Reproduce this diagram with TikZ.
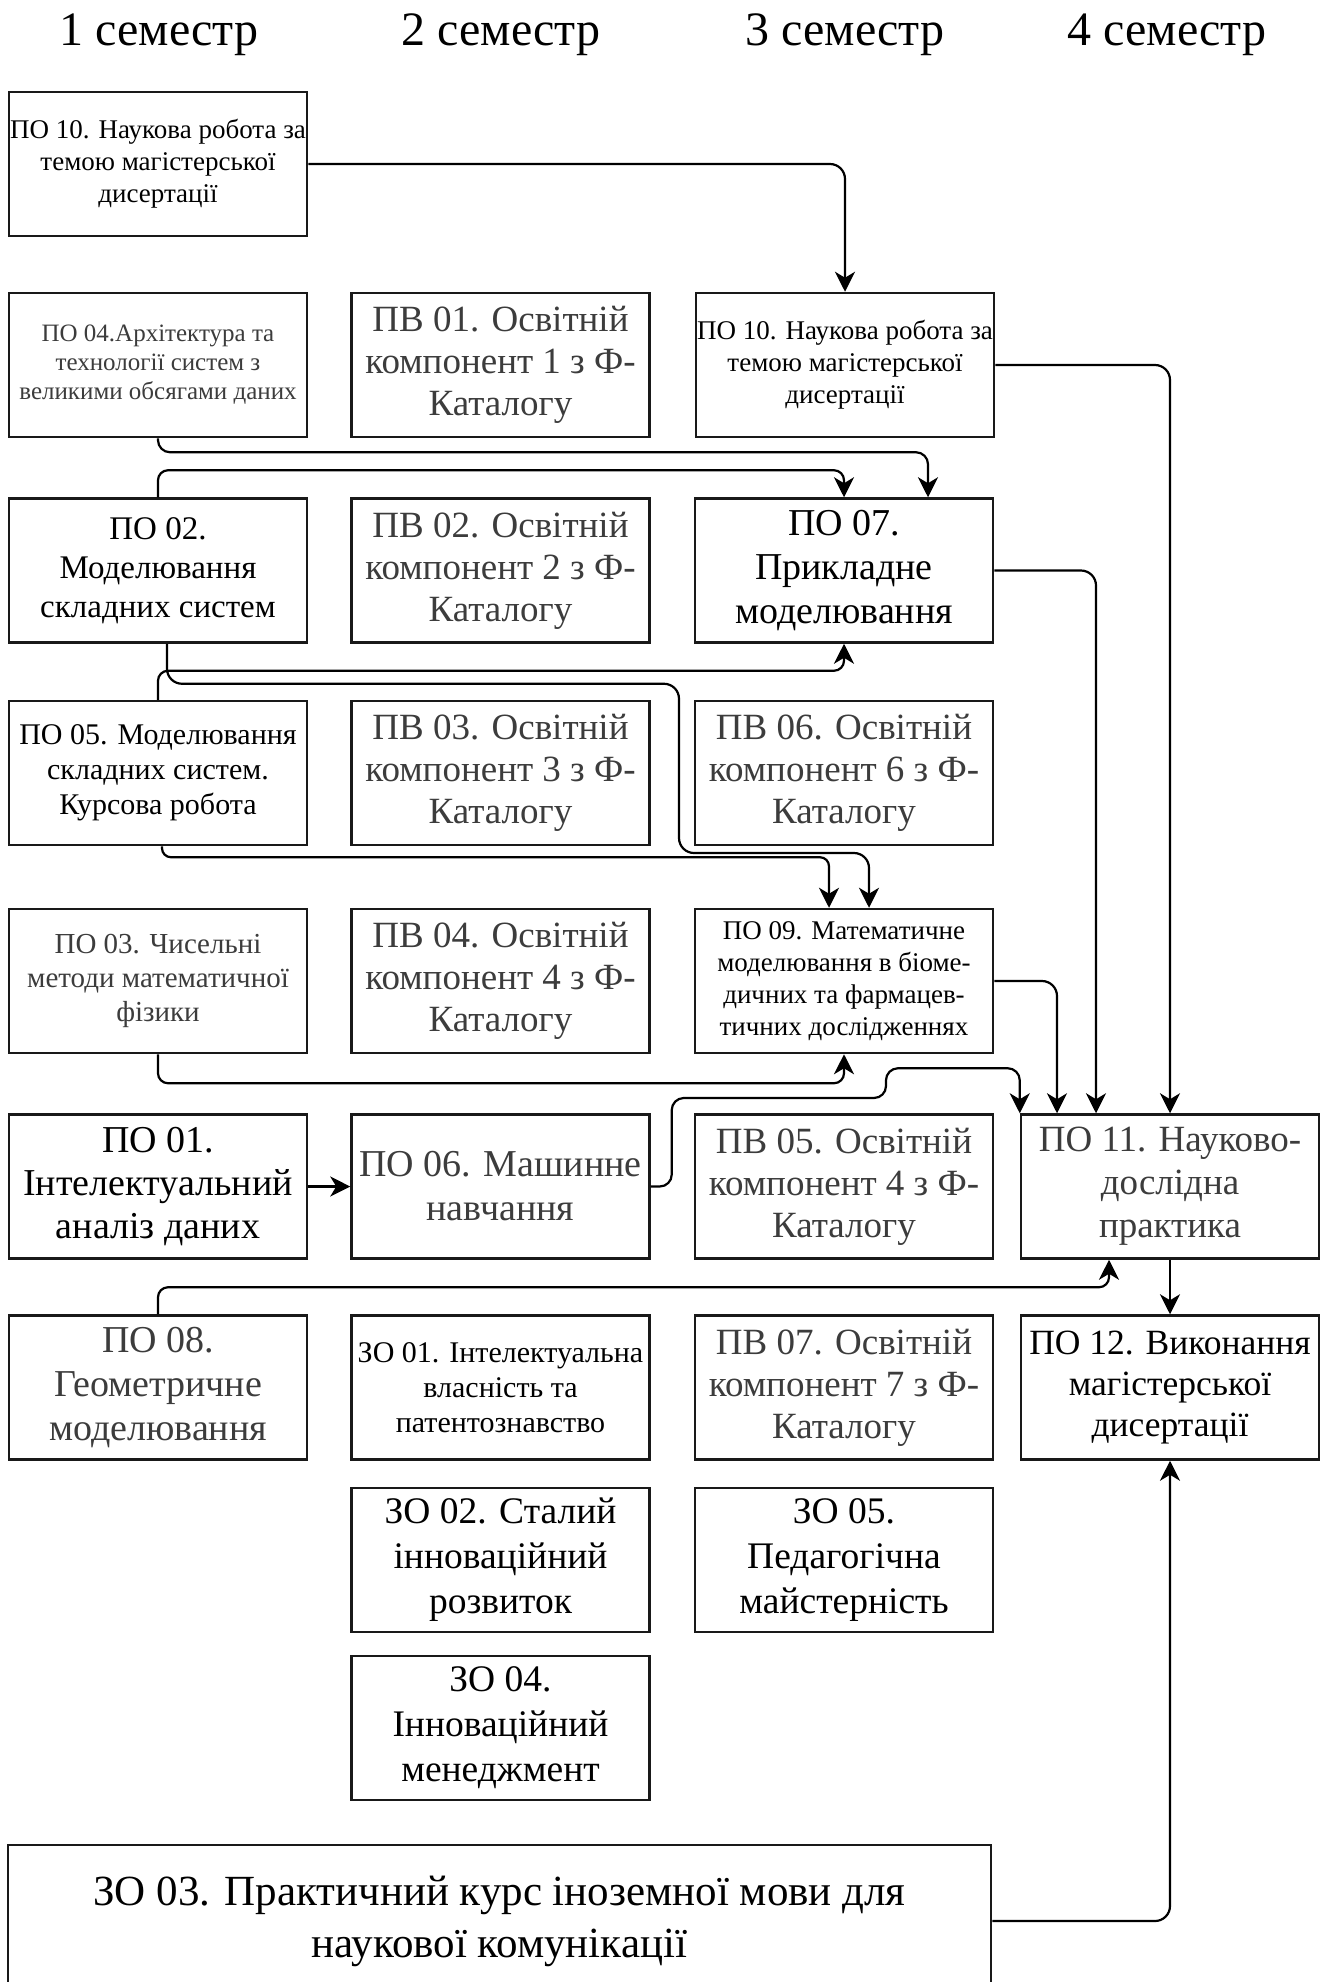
\documentclass[tikz,border=0pt]{standalone}
\usepackage{fontspec}
\setmainfont{Liberation Serif}
\usetikzlibrary{arrows.meta}
\definecolor{tg}{RGB}{60,60,60}
\definecolor{bd}{RGB}{25,25,25}
\newcommand\fs[2]{\fontsize{#1}{#2}\selectfont}
\begin{document}
\begin{tikzpicture}[x=1pt,y=-1pt,
  box/.style={draw=bd, line width=2.5pt, minimum width=298pt, minimum height=144pt, align=center, inner sep=0pt},
  gt/.style={text=tg},
  conn/.style={line width=2.2pt, rounded corners=15pt, -{Stealth[length=20pt,width=20pt,inset=6pt]}},
  sem/.style={font=\fs{48}{54}, anchor=base}]
\useasboundingbox (0,0) rectangle (1322,1982);
\fill[white] (0,0) rectangle (1322,1982);
\clip (0,0) rectangle (1322,1982);

% titles
\node[sem] (t1) at (159,45) {1 семестр};
\node[sem] (t2) at (501,45) {2 семестр};
\node[sem] (t3) at (845,45) {3 семестр};
\node[sem] (t4) at (1167,45) {4 семестр};

% row 0
\node[box, font=\fs{27}{32}] (po10) at (158,164) {ПО 10. Наукова робота за\\темою магістерської\\дисертації};
% row 1
\node[box, gt, font=\fs{25}{29}] (po04) at (158,365) {ПО 04.Архітектура та\\технології систем з\\великими обсягами даних};
\node[box, gt, font=\fs{37}{42}] (pb01) at (500.5,365) {ПВ 01. Освітній\\компонент 1 з Ф-\\Каталогу};
\node[box, font=\fs{27}{32}] (po10b) at (845,365) {ПО 10. Наукова робота за\\темою магістерської\\дисертації};
% row 2
\node[box, font=\fs{33}{39}] (po02) at (158,570.5) {ПО 02.\\Моделювання\\складних систем};
\node[box, gt, font=\fs{37}{42}] (pb02) at (500.5,570.5) {ПВ 02. Освітній\\компонент 2 з Ф-\\Каталогу};
\node[box, font=\fs{38}{44}] (po07) at (844,570.5) {ПО 07.\\Прикладне\\моделювання};
% row 3
\node[box, font=\fs{30}{35}] (po05) at (158,773) {ПО 05. Моделювання\\складних систем.\\Курсова робота};
\node[box, gt, font=\fs{37}{42}] (pb03) at (500.5,773) {ПВ 03. Освітній\\компонент 3 з Ф-\\Каталогу};
\node[box, gt, font=\fs{37}{42}] (pb06) at (844,773) {ПВ 06. Освітній\\компонент 6 з Ф-\\Каталогу};
% row 4
\node[box, gt, font=\fs{29}{34}] (po03) at (158,981) {ПО 03. Чисельні\\методи математичної\\фізики};
\node[box, gt, font=\fs{37}{42}] (pb04) at (500.5,981) {ПВ 04. Освітній\\компонент 4 з Ф-\\Каталогу};
\node[box, font=\fs{27}{32}] (po09) at (844,981) {ПО 09. Математичне\\моделювання в біоме-\\дичних та фармацев-\\тичних дослідженнях};
% row 5
\node[box, font=\fs{38}{43}] (po01) at (158,1186.5) {ПО 01.\\Інтелектуальний\\аналіз даних};
\node[box, gt, font=\fs{38}{44}] (po06) at (500.5,1186.5) {ПО 06. Машинне\\навчання};
\node[box, gt, font=\fs{37}{42}] (pb05) at (844,1186.5) {ПВ 05. Освітній\\компонент 4 з Ф-\\Каталогу};
\node[box, gt, font=\fs{37}{43}] (po11) at (1170,1186.5) {ПО 11. Науково-\\дослідна\\практика};
% row 6
\node[box, gt, font=\fs{38}{44}] (po08) at (158,1387.5) {ПО 08.\\Геометричне\\моделювання};
\node[box, font=\fs{30}{35}] (zo01) at (500.5,1387.5) {ЗО 01. Інтелектуальна\\власність та\\патентознавство};
\node[box, gt, font=\fs{37}{42}] (pb07) at (844,1387.5) {ПВ 07. Освітній\\компонент 7 з Ф-\\Каталогу};
\node[box, font=\fs{35.5}{41}] (po12) at (1170,1387.5) {ПО 12. Виконання\\магістерської\\дисертації};
% row 7, 8
\node[box, font=\fs{37.5}{45}] (zo02) at (500.5,1560) {ЗО 02. Сталий\\інноваційний\\розвиток};
\node[box, font=\fs{37.5}{45}] (zo05) at (844,1560) {ЗО 05.\\Педагогічна\\майстерність};
\node[box, font=\fs{37.5}{45}] (zo04) at (500.5,1728) {ЗО 04.\\Інноваційний\\менеджмент};
% row 9
\node[box, minimum width=983pt, minimum height=152pt, font=\fs{43}{52}] (zo03) at (499.5,1921) {ЗО 03. Практичний курс іноземної мови для\\наукової комунікації};

% connectors
\draw[conn] (po10.east) -| (po10b.north);
\draw[conn, rounded corners=12pt] (po04.south) -- ++(0,14) -| ([xshift=84pt]po07.north);
\draw[conn, rounded corners=10pt] (po02.north) -- ++(0,-27) -| (po07.north);
\draw[conn, rounded corners=10pt] (po05.north) -- ++(0,-29) -| (po07.south);
\draw[conn] ([xshift=9pt]po02.south) -- ++(0,40) -| (679,853) -| ([xshift=25pt]po09.north);
\draw[conn, rounded corners=9pt] ([xshift=4pt]po05.south) -- ++(0,11) -| ([xshift=-15pt]po09.north);
\draw[conn, rounded corners=10pt] (po03.south) -- ++(0,29) -| (po09.south);
\draw[conn] (po01) -- (po06);
\draw[conn, rounded corners=12pt] (po06.east) -- ++(21,0) |- (886,1098) |- ([yshift=45pt]po11.north west) -- (po11.north west);
\draw[conn] (po09.east) -| ([xshift=-113pt]po11.north);
\draw[conn] (po07.east) -| ([xshift=-74pt]po11.north);
\draw[conn] (po10b.east) -| (po11.north);
\draw[conn, rounded corners=10pt] (po08.north) -- ++(0,-27) -| ([xshift=-61pt]po11.south);
\draw[conn] (po11) -- (po12);
\draw[conn] (zo03.east) -| (po12.south);
\end{tikzpicture}
\end{document}
